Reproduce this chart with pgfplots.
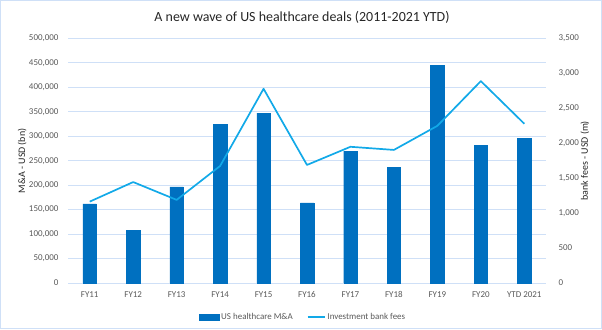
\documentclass[border=0pt]{standalone}
\usepackage{pgfplots}
\pgfplotsset{compat=1.18}
\usepackage{fontspec}
\setmainfont{Carlito}
\definecolor{barblue}{HTML}{0070C0}
\definecolor{lineblue}{HTML}{12A9E8}
\definecolor{gridblue}{HTML}{CFE0F7}
\definecolor{txt}{HTML}{595959}
\definecolor{titlec}{HTML}{262626}
\pgfplotsset{numfmt/.style={/pgf/number format/fixed, /pgf/number format/precision=0,
  /pgf/number format/1000 sep={,}, /pgf/number format/assume math mode=true}}
\begin{document}
\begin{tikzpicture}[x=1bp,y=1bp]
\path[use as bounding box] (0,0) rectangle (602,329);
\draw[gridblue, line width=1bp] (0.5,0.5) rectangle (601.5,328.5);
\node[text=titlec, font=\fontsize{14}{16}\selectfont] at (302,312) {A new wave of US healthcare deals (2011-2021 YTD)};
\begin{axis}[
  at={(68bp,46bp)}, anchor=south west, scale only axis,
  width=478bp, height=244.5bp,
  xmin=-0.5, xmax=10.5, ymin=0, ymax=500000,
  xtick={0,...,10},
  xticklabels={FY11,FY12,FY13,FY14,FY15,FY16,FY17,FY18,FY19,FY20,YTD 2021},
  ytick distance=50000,
  scaled y ticks=false,
  numfmt,
  axis x line*=bottom, axis y line*=left,
  x axis line style={draw=gridblue, line width=1bp, -},
  y axis line style={draw=none},
  major tick length=0pt,
  ymajorgrids, grid style={gridblue, line width=1bp},
  ticklabel style={text=txt, font=\fontsize{9}{10}\selectfont},
  xticklabel style={yshift=-5bp},
  yticklabel style={xshift=-6bp},
  ylabel={M\&A - USD (bn)},
  ylabel style={at={(axis description cs:-0.096,0.5)}, anchor=center, rotate=0, text=titlec, font=\fontsize{10}{12}\selectfont},
]
\addplot[ybar, bar width=13.5bp, fill=barblue, draw=barblue] coordinates {
  (0,162000) (1,107000) (2,196500) (3,325000) (4,347500) (5,164000)
  (6,269500) (7,236500) (8,445500) (9,281000) (10,296500)};
\end{axis}
\begin{axis}[
  at={(68bp,46bp)}, anchor=south west, scale only axis,
  width=478bp, height=244.5bp,
  xmin=-0.5, xmax=10.5, ymin=0, ymax=3500,
  ytick distance=500,
  scaled y ticks=false,
  numfmt,
  axis x line=none, axis y line*=right,
  y axis line style={draw=none},
  major tick length=0pt,
  ticklabel style={text=txt, font=\fontsize{9}{10}\selectfont},
  yticklabel style={xshift=9bp},
  ylabel={bank fees - USD (m)},
  ylabel style={at={(axis description cs:1.0816,0.5)}, anchor=center, rotate=0, text=titlec, font=\fontsize{10}{12}\selectfont},
  legend style={at={(axis description cs:0.4916,-0.139)}, anchor=center, draw=none, fill=none,
    legend columns=2, font=\fontsize{9}{10}\selectfont, text=txt,
    /tikz/every even column/.append style={column sep=12bp}},
]
\addlegendimage{legend image code/.code={\fill[barblue] (0bp,-3bp) rectangle (20bp,3bp);}}
\addlegendentry{US healthcare M\&A}
\addplot[lineblue, line width=1.7bp, line join=round] coordinates {
  (0,1165) (1,1445) (2,1190) (3,1675) (4,2780) (5,1690)
  (6,1950) (7,1905) (8,2250) (9,2890) (10,2280)};
\addlegendentry{Investment bank fees}
\end{axis}
\end{tikzpicture}
\end{document}
